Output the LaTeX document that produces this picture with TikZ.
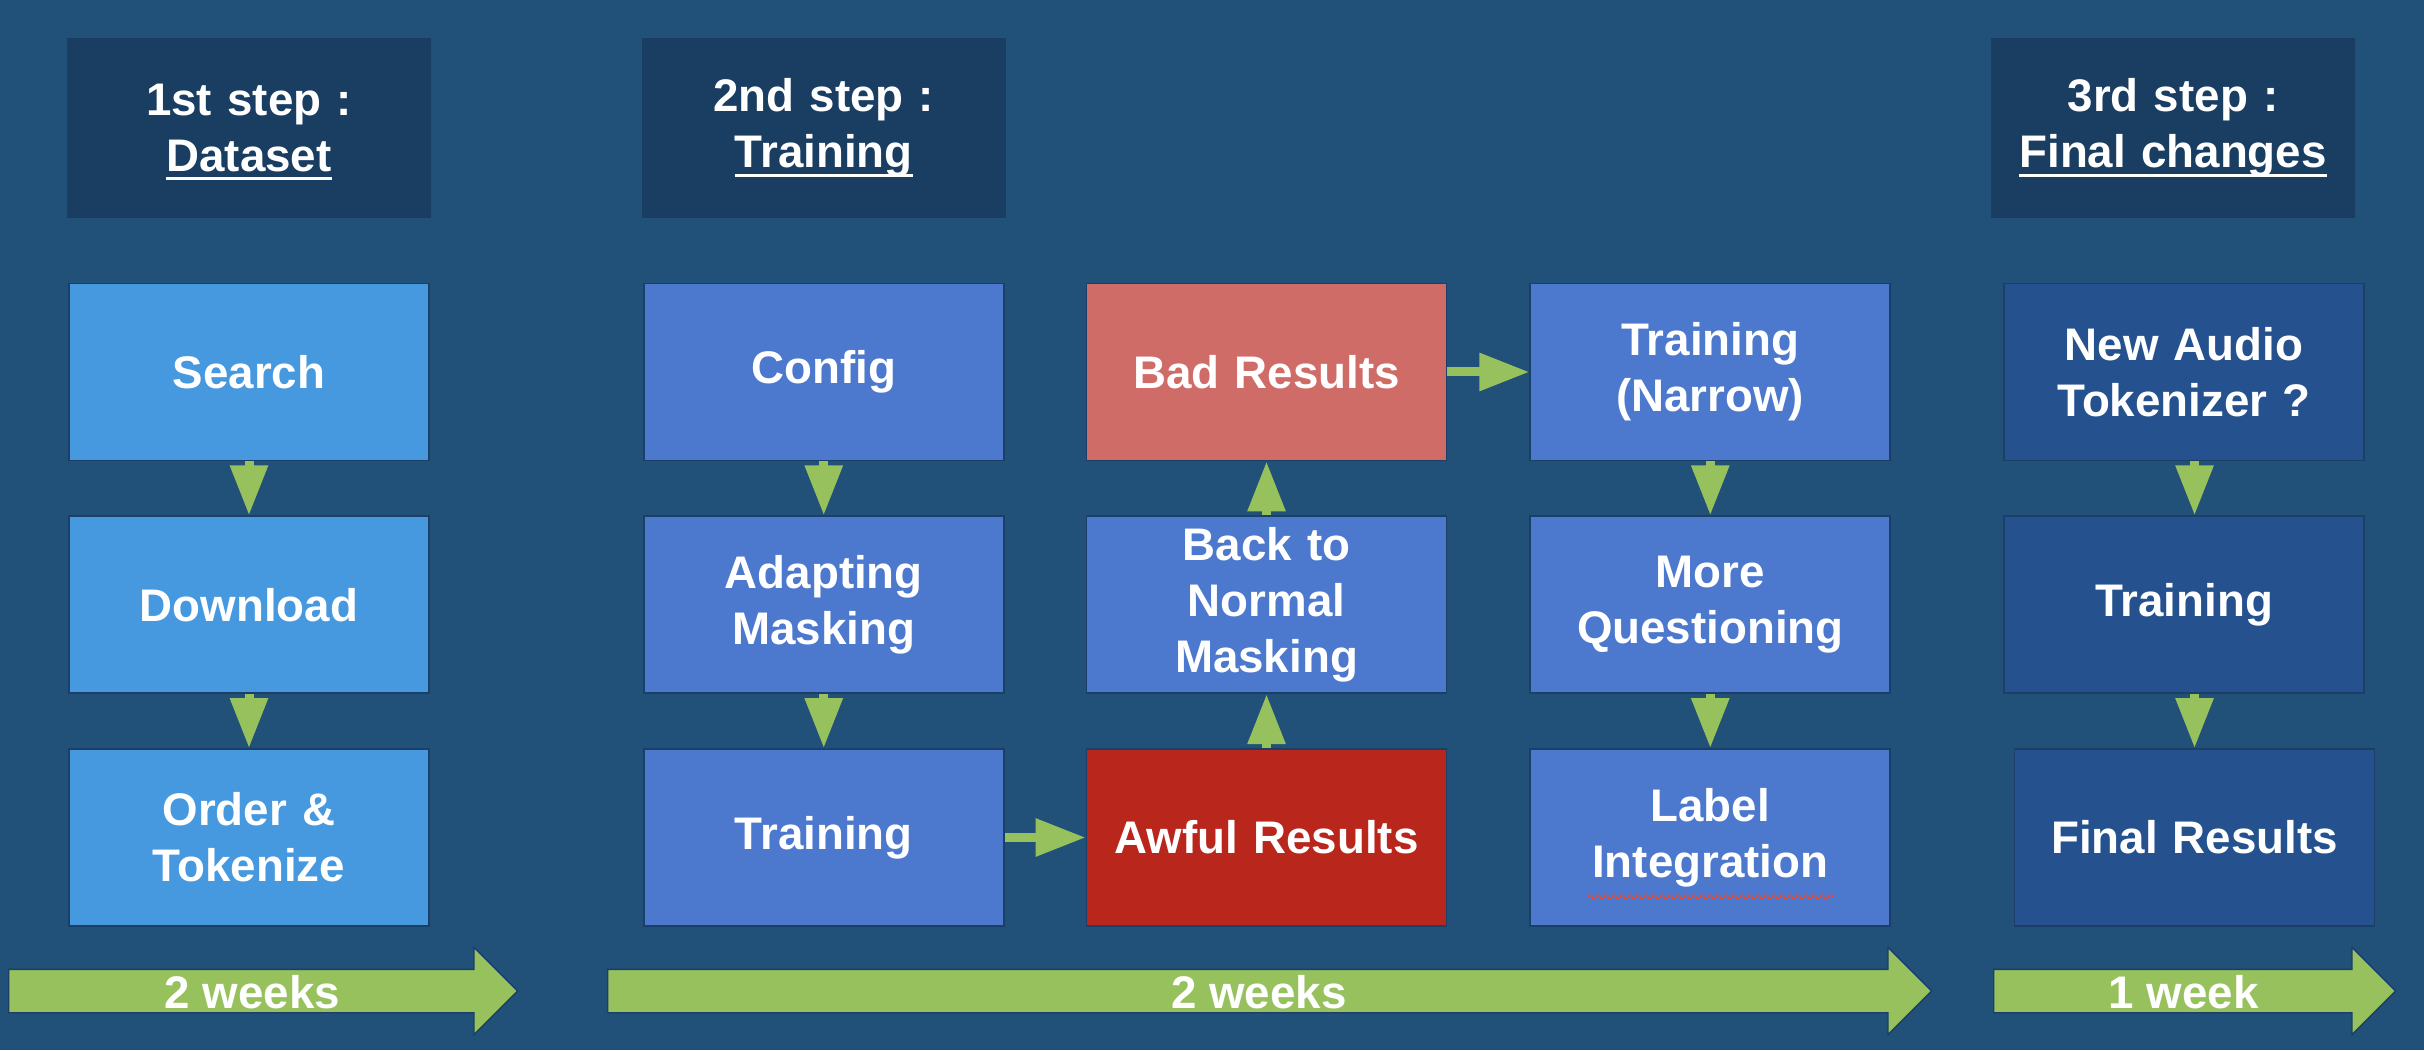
\documentclass[tikz,border=0pt]{standalone}
\usepackage{fontspec}
\setmainfont{Liberation Sans}
\usetikzlibrary{positioning, arrows.meta, shapes.arrows, decorations.pathmorphing}

\definecolor{slidebg}{HTML}{215179}
\definecolor{headfill}{HTML}{1A3D62}
\definecolor{boxline}{HTML}{1B3F66}
\definecolor{stepone}{HTML}{4698DF}
\definecolor{steptwo}{HTML}{4C78CE}
\definecolor{badred}{HTML}{D06C68}
\definecolor{awfulred}{HTML}{B9261C}
\definecolor{stepthree}{HTML}{25528E}
\definecolor{weekgreen}{HTML}{97C15D}
\definecolor{spellred}{HTML}{E04A3A}

% underline that runs through descenders
\newsavebox{\underbox}
\newcommand{\stepunder}[1]{\leavevmode\sbox{\underbox}{#1}\rlap{\raisebox{-2.55pt}[0pt][0pt]{\rule{\wd\underbox}{0.85pt}}}\usebox{\underbox}}

\begin{document}
\begin{tikzpicture}[
    node distance=0.54cm,
    every node/.style={text=white, font=\fontsize{13}{16}\selectfont\bfseries},
    stepbox/.style={rectangle, draw=boxline, line width=0.5pt, align=center, text width=3.4cm, minimum width=3.6cm, minimum height=1.77cm, inner sep=0pt},
    header/.style={rectangle, fill=headfill, align=center, text width=3.4cm, minimum width=3.64cm, minimum height=1.8cm, inner sep=0pt},
    weeks/.style={single arrow, draw=boxline, fill=weekgreen, single arrow head extend=0.22cm, single arrow tip angle=90, text height=0.36cm, text depth=0.02cm, inner ysep=0.02cm, inner xsep=0pt, anchor=tail},
    flow/.style={-{Triangle[length=0.5cm, width=0.36cm]}, line width=0.09cm, draw=weekgreen}
]
    \fill [slidebg] (0,0) rectangle (24.24,10.5);

    % 1st step
    \node [stepbox, fill=stepone] (search) at (2.49,6.78) {Search};
    \node [stepbox, fill=stepone, below=of search] (download) {Download};
    \node [stepbox, fill=stepone, below=of download] (order) {Order \&\\Tokenize};
    \node [header, above=0.64cm of search] (head1) {1st step :\\\stepunder{Dataset}};

    % 2nd step
    \node [stepbox, fill=steptwo, right=2.13cm of search] (config) {Config};
    \node [stepbox, fill=steptwo, below=of config] (adapting) {Adapting\\Masking};
    \node [stepbox, fill=steptwo, below=of adapting] (training) {Training};
    \node [stepbox, fill=badred, right=0.81cm of config] (bad) {Bad Results};
    \node [stepbox, fill=steptwo, below=of bad] (backnormal) {Back to\\Normal\\Masking};
    \node [stepbox, fill=awfulred, below=of backnormal] (awful) {Awful Results};
    \node [stepbox, fill=steptwo, right=0.82cm of bad] (narrow) {Training\\(Narrow)};
    \node [stepbox, fill=steptwo, below=of narrow] (questioning) {More\\Questioning};
    \node [stepbox, fill=steptwo, below=of questioning] (label) {Label\\Integration};
    \node [header, above=0.64cm of config] (head2) {2nd step :\\\stepunder{Training}};

    % 3rd step
    \node [stepbox, fill=stepthree, right=1.12cm of narrow] (tokenizer) {New Audio\\Tokenizer ?};
    \node [stepbox, fill=stepthree, below=of tokenizer] (retrain) {Training};
    \node [stepbox, fill=stepthree, below=of retrain, xshift=0.105cm] (final) {Final Results};
    \node [header, above=0.64cm of tokenizer, xshift=-0.11cm] (head3) {3rd step :\\\stepunder{Final changes}};

    \draw [flow] (search) -- (download);
    \draw [flow] (download) -- (order);
    \draw [flow] (config) -- (adapting);
    \draw [flow] (adapting) -- (training);
    \draw [flow] (training) -- (awful);
    \draw [flow] (awful) -- (backnormal);
    \draw [flow] (backnormal) -- (bad);
    \draw [flow] (bad) -- (narrow);
    \draw [flow] (narrow) -- (questioning);
    \draw [flow] (questioning) -- (label);
    \draw [flow] (tokenizer.south -| final) -- (retrain.north -| final);
    \draw [flow] (retrain.south -| final) -- (final);

    \draw [spellred, line width=0.4pt, decorate, decoration={snake, amplitude=0.02cm, segment length=0.08cm}] ([xshift=0.58cm, yshift=0.3cm]label.south west) -- ([xshift=-0.58cm, yshift=0.3cm]label.south east);

    % time spans
    \node [weeks, minimum height=5.09cm] (span1) at (0.08,0.59) {2 weeks};
    \node [weeks, minimum height=13.24cm] (span2) at (6.07,0.59) {2 weeks};
    \node [weeks, minimum height=4.02cm] (span3) at (19.93,0.59) {1 week};
\end{tikzpicture}
\end{document}
